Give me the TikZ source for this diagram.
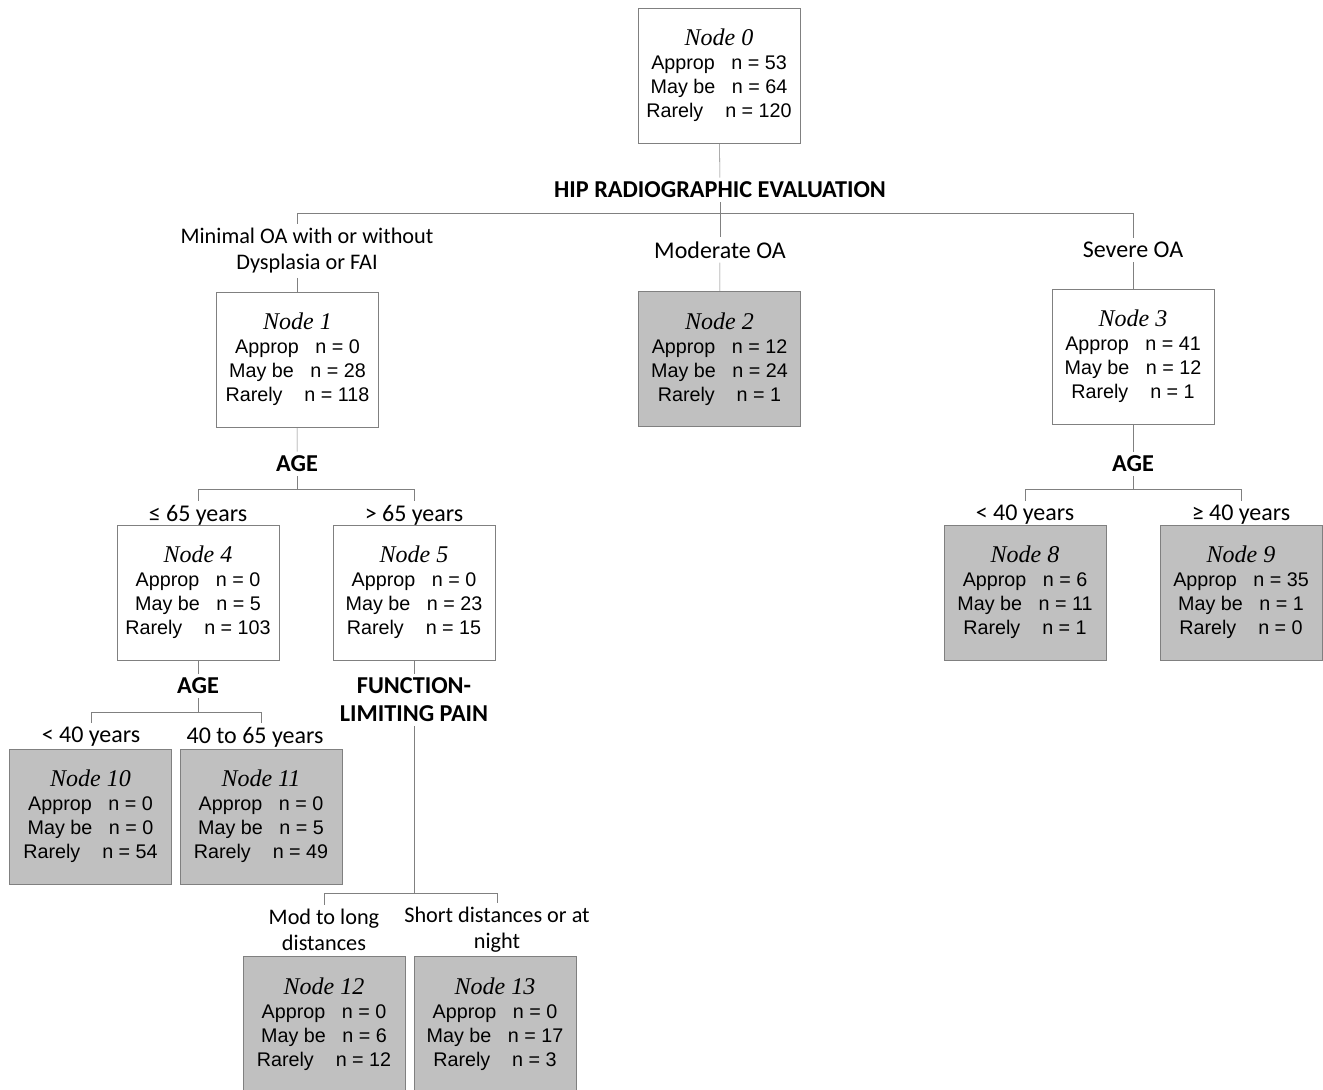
\documentclass[tikz,border=0pt]{standalone}
\usepackage{fontspec}
\setmainfont{Liberation Sans}
\newfontfamily\titlefont{Liberation Serif}
\newfontfamily\labelfont{Carlito}
\usetikzlibrary{positioning}
\definecolor{linegray}{RGB}{128,128,128}
\definecolor{leafgray}{RGB}{192,192,192}

\begin{document}
\begin{tikzpicture}[
        x=0.75pt, y=-0.75pt,
        every node/.style={align=center, font=\fontsize{14.8}{18}\selectfont},
        box/.style={draw=linegray, fill=white, minimum width=121.5pt, minimum height=101.25pt, inner sep=0pt},
        leaf/.style={box, fill=leafgray},
        split/.style={font=\labelfont\bfseries\fontsize{18.2}{21}\selectfont, inner sep=3pt},
        branch/.style={font=\labelfont\fontsize{18}{19.5}\selectfont, inner sep=3pt},
        twoline/.style={font=\labelfont\fontsize{16.7}{19.5}\selectfont, inner sep=3pt},
        link/.style={draw=linegray}
        ]

        \useasboundingbox (0,0) rectangle (1323,1089);

        % Nodes
        \node (n0) [box] at (719,75.5) {{\titlefont\itshape\fontsize{18}{18}\selectfont Node 0}\\ Approp~~~n = 53\\ May be~~~n = 64\\ Rarely~~~~n = 120};

        \node (n1) [box] at (297.5,359.5) {{\titlefont\itshape\fontsize{18}{18}\selectfont Node 1}\\ Approp~~~n = 0\\ May be~~~n = 28\\ Rarely~~~~n = 118};
        \node (n2) [leaf] at (719.5,359) {{\titlefont\itshape\fontsize{18}{18}\selectfont Node 2}\\ Approp~~~n = 12\\ May be~~~n = 24\\ Rarely~~~~n = 1};
        \node (n3) [box] at (1133,356.5) {{\titlefont\itshape\fontsize{18}{18}\selectfont Node 3}\\ Approp~~~n = 41\\ May be~~~n = 12\\ Rarely~~~~n = 1};

        \node (n4) [box] at (198,592.5) {{\titlefont\itshape\fontsize{18}{18}\selectfont Node 4}\\ Approp~~~n = 0\\ May be~~~n = 5\\ Rarely~~~~n = 103};
        \node (n5) [box] at (414,592.5) {{\titlefont\itshape\fontsize{18}{18}\selectfont Node 5}\\ Approp~~~n = 0\\ May be~~~n = 23\\ Rarely~~~~n = 15};
        \node (n8) [leaf] at (1025,592.5) {{\titlefont\itshape\fontsize{18}{18}\selectfont Node 8}\\ Approp~~~n = 6\\ May be~~~n = 11\\ Rarely~~~~n = 1};
        \node (n9) [leaf] at (1241,592.5) {{\titlefont\itshape\fontsize{18}{18}\selectfont Node 9}\\ Approp~~~n = 35\\ May be~~~n = 1\\ Rarely~~~~n = 0};

        \node (n10) [leaf] at (90.5,816.5) {{\titlefont\itshape\fontsize{18}{18}\selectfont Node 10}\\ Approp~~~n = 0\\ May be~~~n = 0\\ Rarely~~~~n = 54};
        \node (n11) [leaf] at (261,816.5) {{\titlefont\itshape\fontsize{18}{18}\selectfont Node 11}\\ Approp~~~n = 0\\ May be~~~n = 5\\ Rarely~~~~n = 49};

        \node (n12) [leaf] at (324,1024) {{\titlefont\itshape\fontsize{18}{18}\selectfont Node 12}\\ Approp~~~n = 0\\ May be~~~n = 6\\ Rarely~~~~n = 12};
        \node (n13) [leaf] at (495,1024) {{\titlefont\itshape\fontsize{18}{18}\selectfont Node 13}\\ Approp~~~n = 0\\ May be~~~n = 17\\ Rarely~~~~n = 3};

        % Labels
        \node (hip) [split] at (720,190) {HIP RADIOGRAPHIC EVALUATION};
        \node (minimal) [twoline] at (307,251) {Minimal OA with or without\\ Dysplasia or FAI};
        \node (moderate) [branch] at (720,250) {Moderate OA};
        \node (severe) [branch] at (1133,250) {Severe OA};

        \node (age1) [split] at (297,464) {AGE};
        \node (le65) [branch] at (198,515) {≤ 65 years};
        \node (gt65) [branch] at (414,515) {> 65 years};

        \node (age3) [split] at (1133,464) {AGE};
        \node (lt40b) [branch] at (1025,515) {< 40 years};
        \node (ge40) [branch] at (1241,515) {≥ 40 years};

        \node (age4) [split] at (198,686) {AGE};
        \node (lt40a) [branch] at (91,737) {< 40 years};
        \node (to65) [branch] at (255,737) {40 to 65 years};

        \node (pain) [split] at (414,700) {FUNCTION-\\ LIMITING PAIN};
        \node (modlong) [twoline] at (324,930) {Mod to long\\ distances};
        \node (short) [twoline] at (497,930) {Short distances or at\\ night};

        % Lines
        \draw [link] (n0) -- (hip);
        \draw [link] (hip.south) -- (720,213) coordinate (b0);
        \draw [link] (b0) -| (n1.north |- minimal.north);
        \draw [link] (b0) -- (moderate);
        \draw [link] (b0) -| (severe);
        \draw [link] (n1.north |- minimal.south) -- (n1);
        \draw [link] (moderate) -- (n2);
        \draw [link] (severe) -- (n3);

        \draw [link] (n1) -- (age1);
        \draw [link] (age1.south) -- (297,489) coordinate (b1);
        \draw [link] (b1) -| (le65);
        \draw [link] (b1) -| (gt65);

        \draw [link] (n3) -- (age3);
        \draw [link] (age3.south) -- (1133,489) coordinate (b3);
        \draw [link] (b3) -| (lt40b);
        \draw [link] (b3) -| (ge40);

        \draw [link] (n4) -- (age4);
        \draw [link] (age4.south) -- (198,712) coordinate (b4);
        \draw [link] (b4) -| (lt40a);
        \draw [link] (b4) -| (n11.north |- to65.north);

        \draw [link] (n5) -- (pain);
        \draw [link] (pain.south) -- (414,893) coordinate (b5);
        \draw [link] (b5) -| (modlong);
        \draw [link] (b5) -| (short);
    \end{tikzpicture}
\end{document}
